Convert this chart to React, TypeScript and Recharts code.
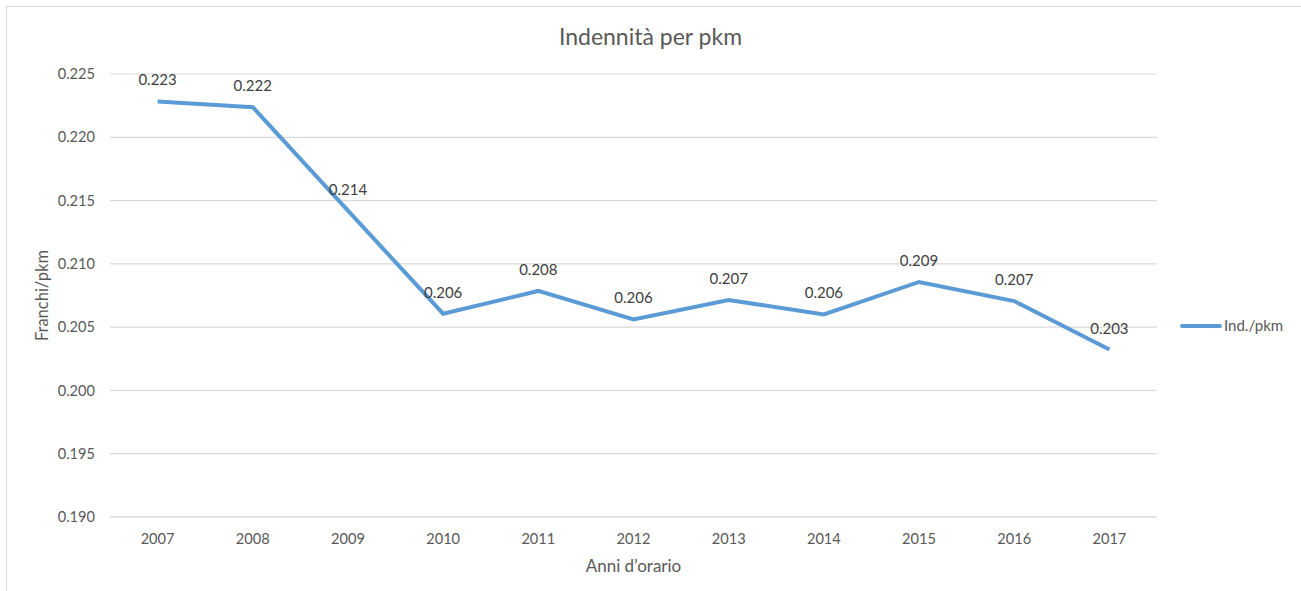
import React from "react";
import { LineChart, Line, XAxis, YAxis, CartesianGrid, Legend, LabelList, Label } from "recharts";

const years = ["2007", "2008", "2009", "2010", "2011", "2012", "2013", "2014", "2015", "2016", "2017"];
const indPkm = [0.22283, 0.22238, 0.2142, 0.20606, 0.20786, 0.20561, 0.20714, 0.20601, 0.20857, 0.20706, 0.20323];
const yTicks = [0.19, 0.195, 0.2, 0.205, 0.21, 0.215, 0.22, 0.225];

const data = years.map((y, i) => ({ year: y, v: indPkm[i] }));

const FONT = "Lato, 'Open Sans', sans-serif";
const GRAY = "#595959";

const LegendContent = () => (
  <svg width={120} height={20}>
    <line x1={2} y1={10} x2={40} y2={10} stroke="#5b9bd5" strokeWidth={4} strokeLinecap="round" />
    <text x={44} y={15} fontSize={15} fill={GRAY} fontFamily={FONT}>Ind./pkm</text>
  </svg>
);

export default function App() {
  return (
    <div style={{ position: "absolute", left: 0, top: 0, width: 1301, height: 591, background: "#fff", overflow: "hidden", fontFamily: FONT }}>
      <div style={{ position: "absolute", left: 6, top: 6, width: 1310, height: 600, border: "1.5px solid #d9d9d9" }} />
      <div style={{ position: "absolute", left: 0, width: 1301, top: 22, textAlign: "center", fontSize: 23, color: GRAY }}>
        Indennità per pkm
      </div>
      <div style={{ position: "absolute", left: 0, top: 0 }}>
        <LineChart width={1301} height={591} data={data} margin={{ top: 74, right: 24, bottom: 24, left: 30 }}>
          <CartesianGrid vertical={false} stroke="#d9d9d9" strokeWidth={1.2} />
          <XAxis
            dataKey="year"
            padding={{ left: 47.6, right: 47.6 }}
            axisLine={{ stroke: "#d9d9d9", strokeWidth: 1.2 }}
            tickLine={false}
            tickSize={0}
            tickMargin={17}
            height={50}
            tick={{ fontSize: 14.6, fill: GRAY, fontFamily: FONT }}
            interval={0}
          >
            <Label value="Anni d’orario" position="insideBottom" offset={-5} style={{ fontSize: 17, fill: GRAY, fontFamily: FONT }} />
          </XAxis>
          <YAxis
            domain={[0.19, 0.225]}
            ticks={yTicks}
            tickFormatter={(v: number) => v.toFixed(3)}
            axisLine={false}
            tickLine={false}
            tickSize={0}
            tickMargin={15}
            width={80}
            tick={{ fontSize: 14.6, fill: GRAY, fontFamily: FONT }}
            allowDataOverflow
          >
            <Label value="Franchi/pkm" angle={-90} position="insideLeft" offset={12} style={{ fontSize: 16.5, fill: GRAY, fontFamily: FONT, textAnchor: "middle" }} />
          </YAxis>
          <Legend layout="vertical" align="right" verticalAlign="middle" content={<LegendContent />} wrapperStyle={{ left: 1180, top: 316, width: 120 }} />
          <Line type="linear" dataKey="v" stroke="#5b9bd5" strokeWidth={4} dot={false} isAnimationActive={false}>
            <LabelList dataKey="v" position="top" offset={16} formatter={(v: number) => v.toFixed(3)} style={{ fontSize: 15, fill: "#404040", fontFamily: FONT }} />
          </Line>
        </LineChart>
      </div>
    </div>
  );
}
